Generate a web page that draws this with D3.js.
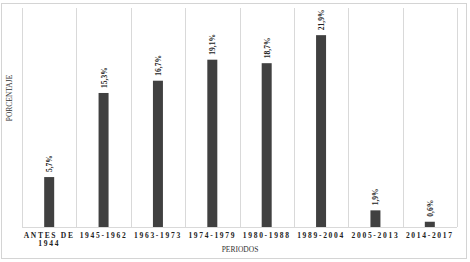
<!DOCTYPE html>
<html><head><meta charset="utf-8">
<script src="https://cdn.jsdelivr.net/npm/d3@7"></script>
<style>body{margin:0;background:#fff}svg{display:block}</style>
</head><body>
<script>
const categories = [["ANTES DE","1944"],["1945-1962"],["1963-1973"],["1974-1979"],["1980-1988"],["1989-2004"],["2005-2013"],["2014-2017"]];
const values = [5.7, 15.3, 16.7, 19.1, 18.7, 21.9, 1.9, 0.6];
const valueLabels = ["5,7%","15,3%","16,7%","19,1%","18,7%","21,9%","1,9%","0,6%"];
const yTitle = "PORCENTAJE";
const xTitle = "PERIODOS";

const W = 470, H = 262;
const svg = d3.select("body").append("svg").attr("width", W).attr("height", H);
svg.append("rect").attr("x",1.5).attr("y",3.5).attr("width",465).attr("height",255)
  .attr("fill","#fff").attr("stroke","#d4d4d4").attr("stroke-width",1);

const keys = categories.map(c => c.join(" "));
const x = d3.scaleBand().domain(keys).range([22, 457]).padding(0);
const y = d3.scaleLinear().domain([0, 25]).range([227, 8]);

// separators
const seps = keys.map(k => x(k)).concat([x.range()[1]]);
svg.selectAll("line.sep").data(seps).enter().append("line")
  .attr("x1", d => Math.round(d)+0.5).attr("x2", d => Math.round(d)+0.5)
  .attr("y1", y(25)).attr("y2", y(0)).attr("stroke","#d9d9d9").attr("stroke-width",1);
svg.append("line").attr("x1",22).attr("x2",457).attr("y1",y(0)+0.5).attr("y2",y(0)+0.5)
  .attr("stroke","#d9d9d9");

const bw = 10;
svg.selectAll("rect.bar").data(values).enter().append("rect")
  .attr("x", (d,i) => x(keys[i]) + x.bandwidth()/2 - bw/2)
  .attr("y", d => y(d)).attr("width", bw).attr("height", d => y(0)-y(d))
  .attr("fill","#404040");

svg.selectAll("text.val").data(values).enter().append("text")
  .attr("transform", (d,i) => `translate(${x(keys[i]) + x.bandwidth()/2 + 3},${y(d)-5}) rotate(-90)`)
  .attr("font-family","Liberation Serif").attr("font-weight","bold").attr("font-size",7.5)
  .attr("fill","#222").text((d,i) => valueLabels[i]);

// x tick labels
const xt = svg.selectAll("text.xt").data(categories).enter().append("text")
  .attr("x",(d,i)=> x(keys[i]) + x.bandwidth()/2).attr("y",238)
  .attr("text-anchor","middle").attr("font-family","Liberation Serif").attr("font-weight","bold")
  .attr("font-size",7.5).attr("letter-spacing",1.7).attr("fill","#222");
xt.selectAll("tspan").data(d=>d).enter().append("tspan")
  .attr("x", function(){ return this.parentNode.getAttribute("x"); })
  .attr("dy",(d,i)=> i===0?0:8).text(d=>d);

svg.append("text").attr("x",240).attr("y",252).attr("text-anchor","middle")
  .attr("font-family","Liberation Serif").attr("font-size",7.5).attr("fill","#333").text(xTitle);
svg.append("text").attr("transform","translate(12,98) rotate(-90)").attr("text-anchor","middle")
  .attr("font-family","Liberation Serif").attr("font-size",7.5).attr("fill","#333").text(yTitle);
</script>
</body></html>
